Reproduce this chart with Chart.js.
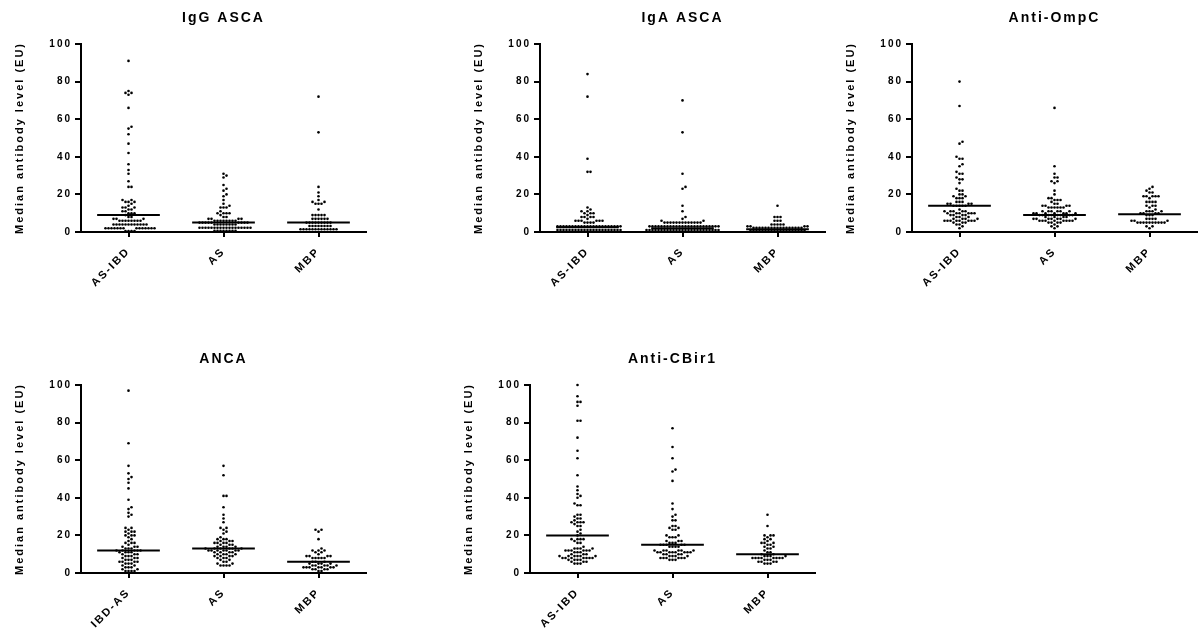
<!DOCTYPE html>
<html>
<head>
<meta charset="utf-8">
<script src="https://cdn.jsdelivr.net/npm/chart.js@4"></script>
<style>
body { margin: 0; width: 1200px; height: 633px; background: #fff; position: relative; overflow: hidden; }
.panel { position: absolute; width: 370px; height: 300px; }
</style>
</head>
<body>
<div class="panel" style="left:0;top:0"><canvas id="igg"></canvas></div>
<div class="panel" style="left:459px;top:0"><canvas id="iga"></canvas></div>
<div class="panel" style="left:831px;top:0"><canvas id="ompc"></canvas></div>
<div class="panel" style="left:0;top:341px"><canvas id="anca"></canvas></div>
<div class="panel" style="left:449px;top:341px"><canvas id="cbir"></canvas></div>
<script>
const categories = ['AS-IBD', 'AS', 'MBP'];
const ancaCategories = ['IBD-AS', 'AS', 'MBP'];
const yTicks = [0, 20, 40, 60, 80, 100];

// IgG ASCA
const iggAsIbd = [91, 75, 74, 74, 73, 66, 56, 55, 52, 47, 42, 36, 33, 31, 27, 24, 24, 17, 17, 16, 16, 16, 15, 14, 13, 13, 13, 12, 12, 11, 11, 10, 10, 10, 9, 8, 8, 7, 7, 7,
  6, 6, 6, 6, 6, 6, 6, 6, 4, 4, 4, 4, 4, 4, 4, 4, 4, 4, 4, 4, 2, 2, 2, 2, 2, 2, 2, 2, 2, 2, 2, 2, 2, 2, 0.5, 0.5, 0.5, 0.5];
const iggAs = [31, 30, 29, 25, 23, 22, 20, 19, 17, 15, 14, 13, 13, 13, 11, 10, 10, 10, 10, 9, 8, 8, 7, 7, 7, 7, 6, 6, 6, 6, 6, 6, 6, 6,
  5, 5, 5, 5, 5, 5, 5, 5, 5, 4, 4, 4, 4, 4, 4, 4, 4, 2.3, 2.3, 2.3, 2.3, 2.3, 2.3, 2.3, 2.3, 2.3, 2.3, 2.3, 2.3, 2.3, 2.3, 2.3, 2.3, 2.3, 2.3,
  0.7, 0.7, 0.7, 0.7, 0.7, 0.7, 0.7, 0.7];
const iggMbp = [72, 53, 24, 21, 19, 17, 16, 16, 15, 15, 15, 12, 9, 9, 9, 9, 9, 7, 7, 7, 7, 7, 7, 5, 5, 5, 5, 5, 5, 5, 5, 5,
  3.2, 3.2, 3.2, 3.2, 3.2, 3.2, 3.2, 3.2, 1.5, 1.5, 1.5, 1.5, 1.5, 1.5, 1.5, 1.5, 1.5, 1.5, 1.5, 1.5, 1.5];
const iggMedians = [9, 5, 5];

// IgA ASCA
const igaAsIbd = [84, 72, 39, 32, 32, 13, 12, 11, 11, 10, 10, 10, 9, 8, 8, 8, 8, 7, 6, 6, 6, 6, 6, 6, 5, 5, 5, 5,
  3, 3, 3, 3, 3, 3, 3, 3, 3, 3, 3, 3, 3, 3, 3, 3, 3, 3, 3, 3, 3, 3,
  1, 1, 1, 1, 1, 1, 1, 1, 1, 1, 1, 1, 1, 1, 1, 1, 1, 1, 1, 1, 1, 1];
const igaAs = [70, 53, 31, 24, 23, 14, 11, 8, 7, 6, 6, 5, 5, 5, 5, 5, 5, 5, 5, 5, 5, 5, 5, 5,
  3, 3, 3, 3, 3, 3, 3, 3, 3, 3, 3, 3, 3, 3, 3, 3, 3, 3, 3, 3, 3, 3, 3, 3,
  1, 1, 1, 1, 1, 1, 1, 1, 1, 1, 1, 1, 1, 1, 1, 1, 1, 1, 1, 1, 1, 1, 1, 1, 1];
const igaMbp = [14, 8, 8, 8, 6, 6, 6, 4, 4, 4, 4, 4, 3, 3, 3, 3,
  2.3, 2.3, 2.3, 2.3, 2.3, 2.3, 2.3, 2.3, 2.3, 2.3, 2.3, 2.3, 2.3, 2.3, 2.3, 2.3, 2.3,
  0.7, 0.7, 0.7, 0.7, 0.7, 0.7, 0.7, 0.7, 0.7, 0.7, 0.7, 0.7, 0.7, 0.7, 0.7, 0.7, 0.7, 0.7, 0.7];
const igaMedians = [2.5, 2, 1.5];

// Anti-OmpC
const ompcAsIbd = [80, 67, 48, 47, 40, 39, 39, 36, 35, 32, 31, 31, 29, 28, 28, 26, 23, 22, 22, 20, 20, 19, 19, 18, 18, 18, 16, 16, 16,
  15, 15, 15, 15, 14, 14, 14, 14, 14, 12, 11, 11, 11, 11, 11, 10, 10, 10, 10, 10, 10, 9, 9, 9, 9, 8, 8, 8, 7, 7, 7, 7,
  6, 6, 6, 6, 6, 6, 6, 6, 5, 5, 5, 4, 4, 3, 2];
const ompcAs = [66, 35, 31, 29, 29, 27, 27, 26, 22, 20, 18, 18, 17, 17, 17, 16, 15, 15, 14, 14, 14, 14, 13, 13, 13, 13, 13, 13,
  11, 11, 11, 11, 11, 11, 10, 10, 10, 10, 10, 10, 10, 9, 9, 9, 9, 9, 9, 9, 9, 8, 8, 8, 8, 7, 7, 7, 7, 7, 7, 7,
  6, 6, 6, 6, 6, 6, 6, 6, 5, 5, 5, 5, 4, 3, 3, 2];
const ompcMbp = [24, 23, 22, 21, 21, 19, 19, 19, 19, 19, 18, 16, 16, 16, 16, 14, 14, 14, 13, 12, 11, 11, 11, 11, 10, 10, 10, 10,
  9, 9, 9, 7, 7, 7, 7, 6, 6, 6, 5, 5, 5, 5, 5, 5, 5, 5, 5, 5, 3, 3, 2];
const ompcMedians = [14, 9, 9.5];

// ANCA
const ancaIbdAs = [97, 69, 57, 53, 51, 50, 48, 45, 39, 35, 34, 32, 31, 30, 24, 24, 23, 22, 22, 22, 21, 20, 20, 20, 19, 18, 17,
  16, 16, 16, 15, 14, 14, 14, 13, 13, 13, 12, 12, 12, 12, 12, 11, 11, 11, 11, 10, 10, 10, 9, 9, 9, 8, 8, 8, 7, 7, 7,
  6, 6, 6, 6, 5, 5, 5, 4, 4, 3, 3, 3, 2, 2, 1, 1, 1, 1];
const ancaAs = [57, 52, 41, 41, 35, 31, 29, 27, 24, 24, 23, 22, 21, 19, 18, 18, 18, 17, 17, 17, 16, 16, 16, 16, 15, 15, 15,
  14, 14, 14, 14, 13, 13, 13, 13, 13, 13, 12, 12, 12, 12, 12, 12, 12, 11, 11, 11, 11, 10, 10, 10, 10, 9, 9, 9, 9,
  8, 8, 8, 7, 7, 6, 6, 5, 5, 4, 4, 4, 4];
const ancaMbp = [23, 23, 22, 18, 13, 12, 12, 12, 11, 11, 10, 9, 9, 9, 9, 8, 8, 8, 8, 8, 6, 6, 6, 5, 5, 5, 5,
  4, 4, 4, 4, 4, 3, 3, 3, 3, 3, 3, 3, 2, 2, 2, 2, 1, 1];
const ancaMedians = [12, 13, 6];

// Anti-CBir1
const cbirAsIbd = [100, 94, 91, 91, 89, 81, 81, 72, 65, 61, 52, 46, 44, 42, 41, 40, 37, 36, 36, 31, 31, 30, 29, 29, 28,
  27, 27, 27, 27, 26, 25, 25, 23, 22, 21, 20, 18, 18, 18, 18, 17, 16, 16, 14, 13, 13, 13, 13, 12, 12, 12, 12, 12, 12,
  11, 11, 11, 10, 10, 10, 9, 9, 9, 9, 9, 9, 8, 8, 8, 8, 8, 8, 8, 7, 7, 7, 7, 6, 6, 6, 5, 5, 5];
const cbirAs = [77, 67, 61, 55, 54, 49, 37, 34, 31, 30, 28, 28, 25, 25, 24, 24, 23, 23, 20, 20, 19, 19, 19, 17, 17, 17,
  16, 16, 16, 15, 15, 15, 15, 15, 14, 14, 14, 14, 12, 12, 12, 12, 12, 12, 11, 11, 11, 11, 11, 11, 11, 11,
  10, 10, 10, 10, 9, 9, 9, 9, 8, 8, 8, 8, 8, 8, 7, 7, 7];
const cbirMbp = [31, 25, 20, 20, 20, 19, 18, 18, 17, 16, 16, 16, 15, 15, 14, 14, 13, 13, 12, 11, 11, 10, 10, 9, 9, 9, 9,
  8, 8, 8, 8, 8, 8, 8, 8, 7, 7, 7, 6, 6, 6, 6, 5, 5, 5];
const cbirMedians = [20, 15, 10];

const FONT = "'Liberation Sans', Arial, sans-serif";
const PX_Y = 1.88;   // pixels per EU on the value axis
const PX_X = 95;     // pixels per category
const DOT = 3;       // minimum distance between dot centres

// spread each group sideways so the dots do not overlap
function swarm(values, centre) {
  const placed = [];
  return values.slice().sort((a, b) => a - b).map(v => {
    const py = v * PX_Y;
    let off = 0;
    for (let k = 0; k < 400; k++) {
      const cand = k === 0 ? 0 : (k % 2 ? 1 : -1) * Math.ceil(k / 2);
      if (placed.every(p => (p.x - cand) ** 2 + (p.y - py) ** 2 >= DOT * DOT)) { off = cand; break; }
    }
    placed.push({ x: off, y: py });
    return { x: centre + off / PX_X, y: v };
  });
}

const spacing = {
  id: 'spacing',
  beforeDraw(chart) { chart.ctx.letterSpacing = '2px'; }
};

function makePanel(id, title, cats, groups, medians) {
  const points = groups.map((g, i) => swarm(g, i + 1)).flat();
  const medLine = [];
  medians.forEach((m, i) => {
    medLine.push({ x: i + 1 - 0.33, y: m }, { x: i + 1 + 0.33, y: m }, { x: i + 1.5, y: null });
  });

  new Chart(document.getElementById(id), {
    type: 'scatter',
    data: {
      datasets: [
        { type: 'line', data: medLine, borderColor: '#000', borderWidth: 2, pointRadius: 0, spanGaps: false, order: 0 },
        { data: points, backgroundColor: '#000', borderWidth: 0, pointRadius: 1.3, order: 1, clip: false }
      ]
    },
    options: {
      responsive: true,
      maintainAspectRatio: false,
      animation: false,
      layout: { padding: { left: 0, right: 4, top: 0, bottom: 0 } },
      plugins: {
        legend: { display: false },
        tooltip: { enabled: false },
        title: {
          display: true, text: title, color: '#000', fullSize: false,
          font: { family: FONT, size: 14, weight: 'bold' },
          padding: { top: 10, bottom: 17.2 }
        }
      },
      scales: {
        x: {
          type: 'linear', min: 0.5, max: 3.5,
          afterBuildTicks: s => { s.ticks = cats.map((c, i) => ({ value: i + 1 })); },
          afterFit: s => { s.height = 68; },
          ticks: {
            autoSkip: false, minRotation: 45, maxRotation: 45, padding: 8, color: '#000',
            font: { family: FONT, size: 11, weight: 'bold' },
            callback: v => cats[v - 1]
          },
          grid: { drawOnChartArea: false, drawTicks: true, tickLength: 5, color: '#000', lineWidth: 2 },
          border: { color: '#000', width: 2 }
        },
        y: {
          min: 0, max: 100,
          afterBuildTicks: s => { s.ticks = yTicks.map(v => ({ value: v })); },
          afterFit: s => { s.width = 81; },
          ticks: { color: '#000', padding: 3, font: { family: FONT, size: 10, weight: 'bold' } },
          grid: { drawOnChartArea: false, drawTicks: true, tickLength: 6, color: '#000', lineWidth: 2 },
          border: { color: '#000', width: 2 },
          title: {
            display: true, text: 'Median antibody level (EU)', color: '#000',
            font: { family: FONT, size: 11, weight: 'bold' },
            padding: { top: 13, bottom: 0 }
          }
        }
      }
    },
    plugins: [spacing]
  });
}

makePanel('igg', 'IgG ASCA', categories, [iggAsIbd, iggAs, iggMbp], iggMedians);
makePanel('iga', 'IgA ASCA', categories, [igaAsIbd, igaAs, igaMbp], igaMedians);
makePanel('ompc', 'Anti-OmpC', categories, [ompcAsIbd, ompcAs, ompcMbp], ompcMedians);
makePanel('anca', 'ANCA', ancaCategories, [ancaIbdAs, ancaAs, ancaMbp], ancaMedians);
makePanel('cbir', 'Anti-CBir1', categories, [cbirAsIbd, cbirAs, cbirMbp], cbirMedians);
</script>
</body>
</html>
